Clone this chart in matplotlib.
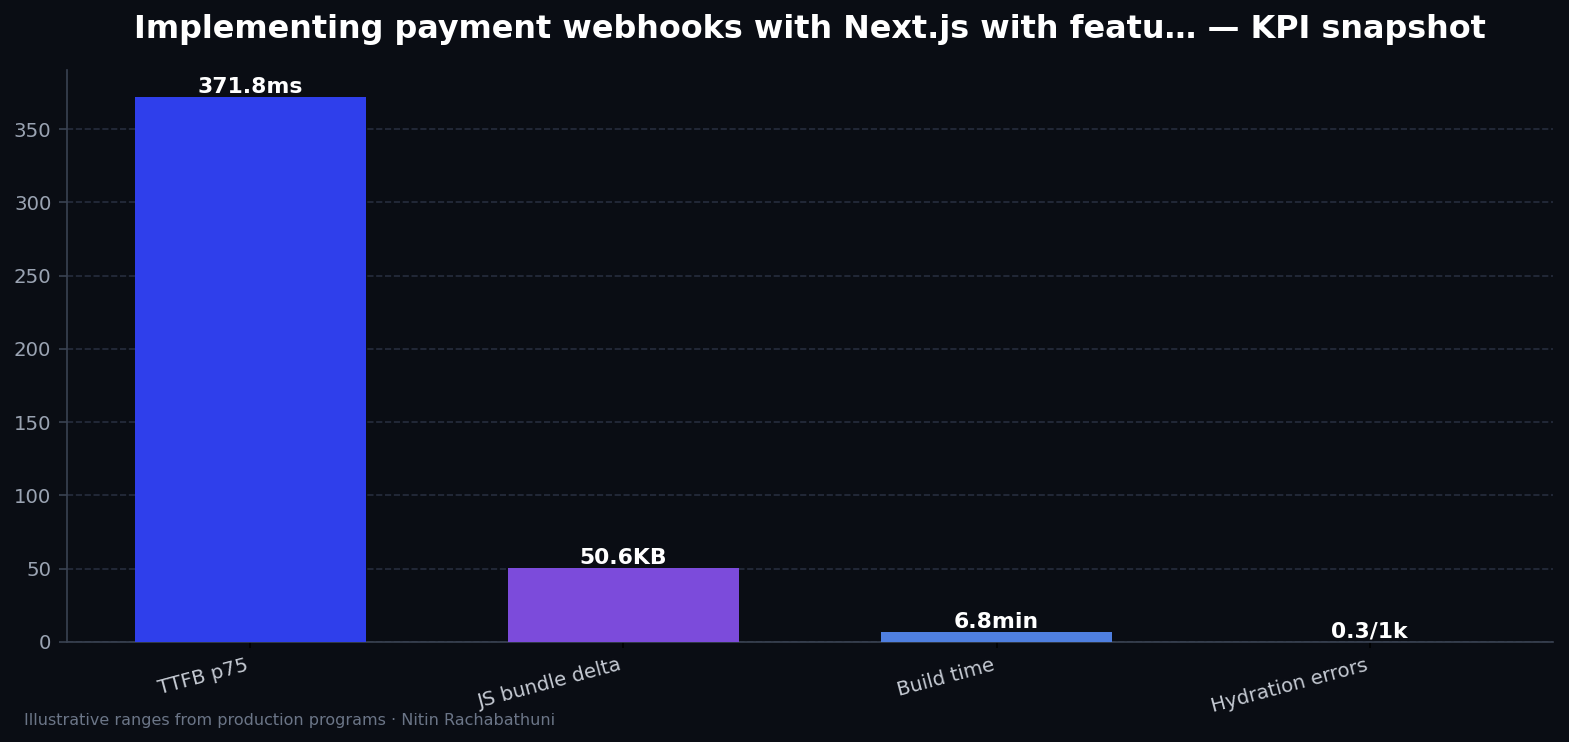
import matplotlib
matplotlib.use("Agg")
import matplotlib.pyplot as plt

categories = ["TTFB p75", "JS bundle delta", "Build time", "Hydration errors"]
values = [371.8, 50.6, 6.8, 0.3]
value_labels = ["371.8ms", "50.6KB", "6.8min", "0.3/1k"]
colors = ["#2f3feb", "#7c4bdb", "#4f7fe0", "#3fb6c6"]

bg = "#0a0d14"
fig = plt.figure(figsize=(1569 / 150, 742 / 150), dpi=150, facecolor=bg)
ax = fig.add_axes([0.0427, 0.1348, 0.9471, 0.7709], facecolor=bg)

x = range(len(categories))
bars = ax.bar(x, values, width=0.62, color=colors, zorder=3)
ax.set_ylim(0, max(values) * 1.05)

for b, lab in zip(bars, value_labels):
    ax.text(b.get_x() + b.get_width() / 2, b.get_height(), lab,
            ha="center", va="bottom", color="white", fontsize=10.5,
            fontweight="bold", zorder=4)

ax.set_xticks(list(x))
ax.set_xticklabels(categories, rotation=15, ha="right", color="#c5cad3", fontsize=9.5)
ax.tick_params(axis="x", colors="#000000", labelcolor="#c5cad3", length=3)
ax.tick_params(axis="y", colors="#3a4252", labelcolor="#9aa3b2", labelsize=9.5, length=4)

ax.grid(axis="y", linestyle="--", color="#262d3e", linewidth=0.8, zorder=0)
for s in ["top", "right"]:
    ax.spines[s].set_visible(False)
for s in ["left", "bottom"]:
    ax.spines[s].set_color("#3a4252")

ax.set_title("Implementing payment webhooks with Next.js with featu\u2026 \u2014 KPI snapshot",
             color="white", fontsize=15.3, fontweight="bold", pad=15.5)

fig.text(0.0153, 0.0296, "Illustrative ranges from production programs \u00b7 Nitin Rachabathuni",
         color="#6b7587", fontsize=7.7, ha="left", va="center")

fig.savefig("out.png", dpi=150, facecolor=bg)
